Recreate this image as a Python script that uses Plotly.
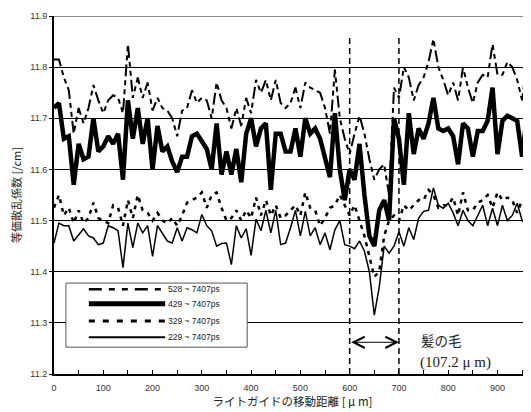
import plotly.graph_objects as go

# ---- data ----
x_um = [10 * i for i in range(98)]

s528 = [11.815, 11.815, 11.78, 11.755, 11.67, 11.72, 11.69, 11.72, 11.765, 11.735,
        11.71, 11.735, 11.745, 11.74, 11.71, 11.845, 11.74, 11.78, 11.74, 11.77,
        11.715, 11.74, 11.72, 11.715, 11.70, 11.665, 11.715, 11.72, 11.755, 11.73,
        11.74, 11.735, 11.70, 11.77, 11.735, 11.72, 11.68, 11.72, 11.685, 11.74,
        11.71, 11.775, 11.75, 11.775, 11.735, 11.775, 11.73, 11.72, 11.73, 11.76,
        11.72, 11.77, 11.76, 11.755, 11.75, 11.72, 11.67, 11.795, 11.70, 11.66,
        11.63, 11.67, 11.705, 11.67, 11.62, 11.58, 11.60, 11.61, 11.55, 11.76,
        11.74, 11.80, 11.78, 11.735, 11.765, 11.78, 11.81, 11.855, 11.80, 11.775,
        11.745, 11.77, 11.735, 11.80, 11.76, 11.73, 11.77, 11.785, 11.78, 11.845,
        11.785, 11.785, 11.81, 11.80, 11.775, 11.735, 11.815, 11.80]

s429 = [11.72, 11.73, 11.66, 11.665, 11.57, 11.65, 11.62, 11.625, 11.70, 11.635,
        11.645, 11.665, 11.65, 11.67, 11.58, 11.735, 11.66, 11.72, 11.65, 11.70,
        11.60, 11.685, 11.635, 11.645, 11.615, 11.595, 11.625, 11.625, 11.665, 11.67,
        11.655, 11.64, 11.60, 11.69, 11.59, 11.635, 11.59, 11.64, 11.575, 11.67,
        11.70, 11.645, 11.68, 11.69, 11.56, 11.67, 11.67, 11.635, 11.635, 11.68,
        11.625, 11.70, 11.67, 11.68, 11.66, 11.62, 11.585, 11.71, 11.60, 11.54,
        11.60, 11.58, 11.65, 11.55, 11.47, 11.45, 11.52, 11.54, 11.50, 11.70,
        11.66, 11.57, 11.71, 11.63, 11.68, 11.66, 11.69, 11.74, 11.68, 11.675,
        11.68, 11.665, 11.61, 11.69, 11.68, 11.625, 11.675, 11.675, 11.695, 11.76,
        11.63, 11.695, 11.705, 11.70, 11.695, 11.625, 11.71, 11.715]

s329 = [11.525, 11.55, 11.51, 11.525, 11.495, 11.52, 11.495, 11.505, 11.535, 11.505,
        11.50, 11.495, 11.53, 11.525, 11.49, 11.54, 11.505, 11.55, 11.52, 11.515,
        11.50, 11.515, 11.50, 11.495, 11.505, 11.49, 11.51, 11.535, 11.54, 11.545,
        11.555, 11.525, 11.55, 11.555, 11.525, 11.50, 11.505, 11.52, 11.50, 11.52,
        11.505, 11.545, 11.51, 11.54, 11.51, 11.53, 11.505, 11.51, 11.52, 11.53,
        11.51, 11.555, 11.525, 11.52, 11.49, 11.505, 11.525, 11.53, 11.55, 11.53,
        11.51, 11.53, 11.50, 11.47, 11.43, 11.39, 11.40, 11.47, 11.50, 11.51,
        11.50, 11.53, 11.52, 11.53, 11.54, 11.54, 11.56, 11.55, 11.525, 11.53,
        11.53, 11.545, 11.51, 11.555, 11.52, 11.52, 11.535, 11.54, 11.55, 11.525,
        11.555, 11.54, 11.545, 11.54, 11.515, 11.54, 11.54, 11.53]

s229 = [11.456, 11.495, 11.49, 11.49, 11.46, 11.473, 11.484, 11.47, 11.466, 11.453,
        11.456, 11.49, 11.486, 11.48, 11.408, 11.495, 11.447, 11.495, 11.476, 11.49,
        11.43, 11.49, 11.476, 11.46, 11.456, 11.486, 11.46, 11.486, 11.482, 11.476,
        11.512, 11.49, 11.48, 11.45, 11.455, 11.456, 11.414, 11.49, 11.466, 11.484,
        11.432, 11.503, 11.48, 11.52, 11.476, 11.52, 11.453, 11.456, 11.486, 11.52,
        11.47, 11.518, 11.47, 11.486, 11.453, 11.476, 11.443, 11.482, 11.50, 11.453,
        11.45, 11.445, 11.46, 11.44, 11.40, 11.315, 11.37, 11.45, 11.436, 11.45,
        11.478, 11.45, 11.486, 11.463, 11.505, 11.518, 11.52, 11.564, 11.53, 11.524,
        11.534, 11.515, 11.49, 11.52, 11.50, 11.49, 11.51, 11.53, 11.49, 11.524,
        11.49, 11.53, 11.50, 11.51, 11.534, 11.50, 11.49, 11.51]

series_names = ["528 ~ 7407ps", "429 ~ 7407ps", "329 ~ 7407ps", "229 ~ 7407ps"]
hair_bounds = [600, 700]
hair_label = "髪の毛"
hair_width_label = "(107.2 μ m)"
x_ticks = [0, 100, 200, 300, 400, 500, 600, 700, 800, 900]
y_ticks = [11.2, 11.3, 11.4, 11.5, 11.6, 11.7, 11.8, 11.9]

# ---- styles ----
styles = [
    dict(width=2, dash="12px,4px,5px,4px,5px,4px"),
    dict(width=4.5, dash="solid"),
    dict(width=2.5, dash="4px,5px"),
    dict(width=1.5, dash="solid"),
]
all_series = [s528, s429, s329, s229]

fig = go.Figure()
for name, ys, st in zip(series_names, all_series, styles):
    fig.add_trace(go.Scatter(
        x=x_um, y=ys, mode="lines", name=name, showlegend=False,
        line=dict(color="black", width=st["width"], dash=st["dash"]),
    ))

shapes = []
shapes.append(dict(type="line", xref="paper", yref="y", x0=0, x1=1, y0=11.9, y1=11.9,
                   line=dict(color="#8a8a8a", width=2)))
for xb in hair_bounds:
    shapes.append(dict(type="line", xref="x", yref="y", x0=xb, x1=xb, y0=11.2, y1=11.863,
                       line=dict(color="black", width=1.5, dash="6px,4px")))

lx0, lx1, ly0, ly1 = 0.025, 0.405, 0.075, 0.254
shapes.append(dict(type="rect", xref="paper", yref="paper", x0=lx0, x1=lx1, y0=ly0, y1=ly1,
                   fillcolor="white", line=dict(color="#555555", width=1), layer="above"))
row_y = [0.237, 0.196, 0.148, 0.103]
legend_dash = ["13px,7px,6px,7px,6px,7px", "solid", "6px,8px", "solid"]
annotations = []
for name, st, ry, ld in zip(series_names, styles, row_y, legend_dash):
    shapes.append(dict(type="line", xref="paper", yref="paper", x0=0.073, x1=0.233, y0=ry, y1=ry,
                       line=dict(color="black", width=st["width"] + 0.5, dash=ld),
                       layer="above"))
    annotations.append(dict(xref="paper", yref="paper", x=0.234, y=ry, text=name,
                            showarrow=False, xanchor="left", yanchor="middle",
                            font=dict(family="Liberation Sans", size=8.5, color="#222")))

annotations.append(dict(x=hair_bounds[1], y=11.262, ax=hair_bounds[0], ay=11.262,
                        xref="x", yref="y", axref="x", ayref="y", text="",
                        showarrow=True, arrowside="end+start", arrowhead=5, startarrowhead=5,
                        arrowsize=2.2, startarrowsize=2.2, arrowwidth=1, arrowcolor="black"))
annotations.append(dict(x=740, y=11.266, xref="x", yref="y", text=hair_label, showarrow=False,
                        xanchor="left", yanchor="middle",
                        font=dict(family="Noto Sans CJK JP", size=13.5, color="#222")))
annotations.append(dict(x=738, y=11.223, xref="x", yref="y", text=hair_width_label, showarrow=False,
                        xanchor="left", yanchor="middle",
                        font=dict(family="Liberation Serif", size=15, color="#222")))

# page body has an 8px margin: the figure is sized/offset to compensate
fig.update_layout(
    width=523, height=404,
    margin=dict(l=46, r=0, t=8, b=38),
    paper_bgcolor="white", plot_bgcolor="white",
    shapes=shapes, annotations=annotations,
    showlegend=False,
)
fig.update_xaxes(
    automargin=False,
    range=[0, 968], tickvals=x_ticks, ticks="inside", ticklen=4, tickcolor="black",
    minor=dict(dtick=50, ticks="inside", ticklen=4, tickcolor="black"),
    showgrid=False, zeroline=False, showline=True, linecolor="black", linewidth=2,
    tickfont=dict(family="Liberation Sans", size=9, color="#333"),
    ticklabelstandoff=4,
    title=dict(text="ライトガイドの移動距離 [ μ m]",
               font=dict(family="Noto Sans CJK JP", size=11.5, color="#222"), standoff=4),
)
fig.update_yaxes(
    automargin=False,
    range=[11.2, 11.9], tickvals=y_ticks, tickformat=".1f", ticks="outside", ticklen=3,
    tickcolor="black",
    showgrid=True, gridcolor="black", gridwidth=1, zeroline=False,
    showline=True, linecolor="black", linewidth=2,
    tickfont=dict(family="Liberation Sans", size=9, color="#333"),
    title=dict(text="等価散乱係数 [/cm]",
               font=dict(family="Noto Sans CJK JP", size=11, color="#222"), standoff=10),
)

fig.write_html("out.html")
